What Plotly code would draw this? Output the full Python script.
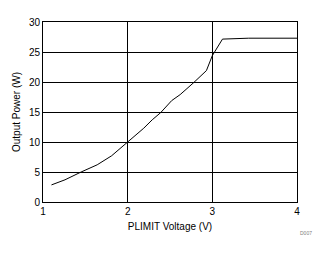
import plotly.graph_objects as go

voltage = [1.10, 1.26, 1.45, 1.64, 1.81, 2.0, 2.19, 2.29, 2.39, 2.52, 2.62, 2.78, 2.93, 3.0, 3.12, 3.43, 4.0]
power = [2.85, 3.7, 5.0, 6.2, 7.7, 10.0, 12.3, 13.7, 14.9, 16.9, 17.9, 19.9, 21.9, 24.4, 27.15, 27.3, 27.3]

x_ticks = [1, 2, 3, 4]
y_ticks = [0, 5, 10, 15, 20, 25, 30]

fig = go.Figure()
fig.add_trace(go.Scatter(x=voltage, y=power, mode="lines",
                         line=dict(color="black", width=1), showlegend=False))

axis_font = dict(family="Liberation Sans, Arial, sans-serif", size=10, color="black")
fig.update_layout(
    width=326, height=254,
    margin=dict(l=43, r=29, t=22, b=52),
    paper_bgcolor="white", plot_bgcolor="white",
    font=axis_font,
    xaxis=dict(range=[1, 4], tickvals=x_ticks, showgrid=True, gridcolor="black", gridwidth=1,
               showline=True, linecolor="black", linewidth=1, mirror=True, zeroline=False,
               ticks="", ticklen=0, tickfont=axis_font,
               title=dict(text="PLIMIT Voltage (V)", font=axis_font, standoff=6)),
    yaxis=dict(range=[0, 30], tickvals=y_ticks, showgrid=True, gridcolor="black", gridwidth=1,
               showline=True, linecolor="black", linewidth=1, mirror=True, zeroline=False,
               ticks="", ticklen=0, tickfont=axis_font,
               title=dict(text="Output Power (W)", font=axis_font, standoff=6)),
    annotations=[dict(text="D007", x=1.065, y=-0.17, xref="paper", yref="paper",
                      xanchor="right", yanchor="middle", showarrow=False,
                      font=dict(family="Liberation Sans, Arial, sans-serif", size=5, color="#808080"))],
)
fig.write_html("out.html")
